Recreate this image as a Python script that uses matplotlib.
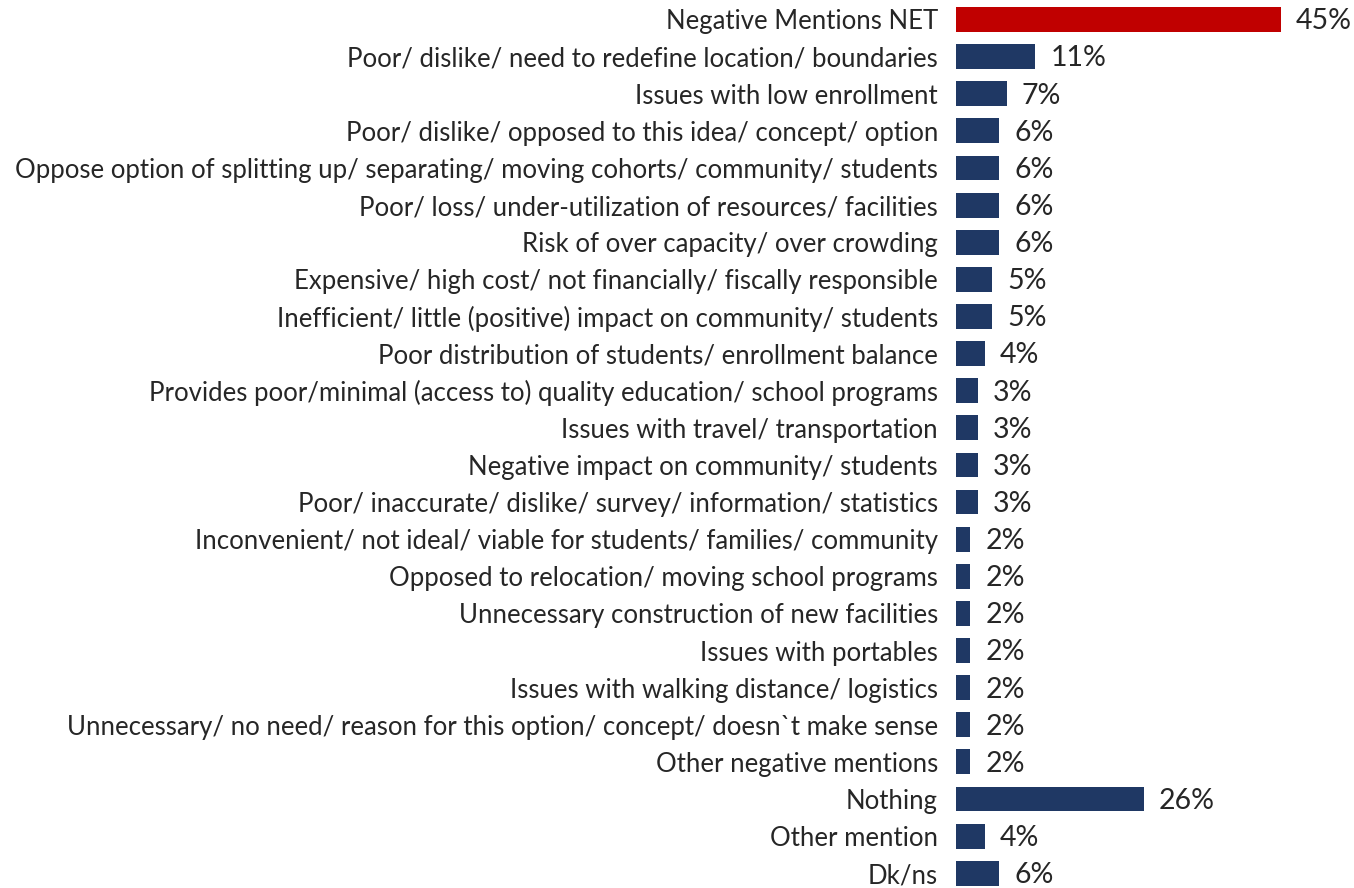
import matplotlib
matplotlib.use("Agg")
import matplotlib.pyplot as plt

categories = [
    "Negative Mentions NET",
    "Poor/ dislike/ need to redefine location/ boundaries",
    "Issues with low enrollment",
    "Poor/ dislike/ opposed to this idea/ concept/ option",
    "Oppose option of splitting up/ separating/ moving cohorts/ community/ students",
    "Poor/ loss/ under-utilization of resources/ facilities",
    "Risk of over capacity/ over crowding",
    "Expensive/ high cost/ not financially/ fiscally responsible",
    "Inefficient/ little (positive) impact on community/ students",
    "Poor distribution of students/ enrollment balance",
    "Provides poor/minimal (access to) quality education/ school programs",
    "Issues with travel/ transportation",
    "Negative impact on community/ students",
    "Poor/ inaccurate/ dislike/ survey/ information/ statistics",
    "Inconvenient/ not ideal/ viable for students/ families/ community",
    "Opposed to relocation/ moving school programs",
    "Unnecessary construction of new facilities",
    "Issues with portables",
    "Issues with walking distance/ logistics",
    "Unnecessary/ no need/ reason for this option/ concept/ doesn`t make sense",
    "Other negative mentions",
    "Nothing",
    "Other mention",
    "Dk/ns",
]
values = [45, 11, 7, 6, 6, 6, 6, 5, 5, 4, 3, 3, 3, 3, 2, 2, 2, 2, 2, 2, 2, 26, 4, 6]
highlight = ["Negative Mentions NET"]

RED = "#C00000"
NAVY = "#1F3864"
TEXT = "#262626"

W, H = 1354, 888
fig = plt.figure(figsize=(W / 100, H / 100), dpi=100)
plt.rcParams["font.family"] = ["Lato", "DejaVu Sans"]

x0 = 956
pxper = 7.22
row = 37.12
top_center = 19.5
n = len(categories)
ax_top = top_center - row / 2
ax_h = row * n
ax = fig.add_axes([x0 / W, (H - ax_top - ax_h) / H, (W - x0) / W, ax_h / H])
ax.set_xlim(0, (W - x0) / pxper)
ax.set_ylim(n - 0.5, -0.5)

ys = list(range(n))
colors = [RED if c in highlight else NAVY for c in categories]
ax.barh(ys, values, height=0.67, color=colors, edgecolor="none")

for y, v in zip(ys, values):
    ax.text(v + 15 / pxper, y + 0.05, f"{v}%", va="center", ha="left",
            fontsize=20.5, color=TEXT)

ax.set_yticks(ys)
ax.set_yticklabels(categories, fontsize=18.5, color=TEXT)
ax.tick_params(axis="y", length=0, pad=13)
ax.set_xticks([])
for s in ax.spines.values():
    s.set_visible(False)

fig.savefig("out.png", dpi=100)
